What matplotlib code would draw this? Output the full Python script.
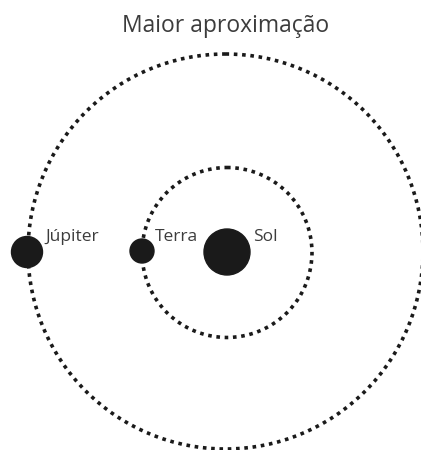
import matplotlib.pyplot as plt
import matplotlib.patches as mpatches

# orbits around the sun (px)
orbit_names = ["Terra", "Júpiter"]
orbit_cx = [227, 225.5]
orbit_cy = [252.5, 251.5]
orbit_radius = [85, 197.5]

# bodies: name, centre, radius (px)
body_names = ["Sol", "Terra", "Júpiter"]
body_x = [227, 142, 27]
body_y = [252, 251, 252]
body_r = [23, 12, 15.5]

label_x = [253, 155, 45]
label_y = [241, 241, 241]

fig = plt.figure(figsize=(4.21, 4.5), dpi=100)
ax = fig.add_axes([0, 0, 1, 1])
ax.set_xlim(0, 421)
ax.set_ylim(450, 0)
ax.set_aspect("equal")
ax.axis("off")

for cx, cy, r in zip(orbit_cx, orbit_cy, orbit_radius):
    ax.add_patch(mpatches.Circle((cx, cy), r, fill=False, color="#1a1a1a",
                                 lw=2.6, linestyle=(0, (1, 1.3))))

for name, x, y, r, lx, ly in zip(body_names, body_x, body_y, body_r, label_x, label_y):
    ax.add_patch(mpatches.Circle((x, y), r, color="#1a1a1a", zorder=3))
    ax.text(lx, ly, name, fontsize=12.5, family="Open Sans",
            color="#3c3c3c", ha="left", va="baseline")

ax.text(226, 32, "Maior aproximação", fontsize=16.5, family="Open Sans",
        color="#3c3c3c", ha="center", va="baseline")

fig.savefig("out.png", dpi=100)
